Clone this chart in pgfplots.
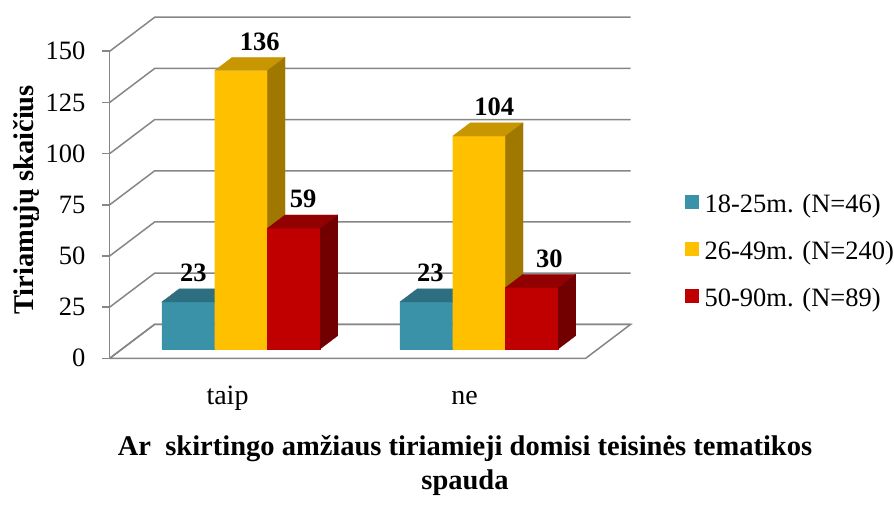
\documentclass[border=0pt]{standalone}
\usepackage{fontspec}
\setmainfont{Liberation Serif}
\usepackage{pgfplots}
\pgfplotsset{compat=1.18}
\definecolor{tealF}{HTML}{3A92A8}
\definecolor{tealT}{HTML}{2D6F80}
\definecolor{tealS}{HTML}{245A68}
\definecolor{yelF}{HTML}{FFC000}
\definecolor{yelT}{HTML}{C89600}
\definecolor{yelS}{HTML}{A07800}
\definecolor{redF}{HTML}{C00000}
\definecolor{redT}{HTML}{930000}
\definecolor{redS}{HTML}{720000}
\definecolor{gridc}{HTML}{868686}
% #1 left x, #2 right x, #3 value, #4 front, #5 top, #6 side colour
\newcommand{\cube}[6]{%
 \addplot3[forget plot, mark=none, draw=#4, line width=0.2pt, fill=#4] coordinates {(#1,0.2735,0) (#2,0.2735,0) (#2,0.2735,#3) (#1,0.2735,#3) (#1,0.2735,0)};
 \addplot3[forget plot, mark=none, draw=#5, line width=0.2pt, fill=#5] coordinates {(#1,0.2735,#3) (#2,0.2735,#3) (#2,0.665,#3) (#1,0.665,#3) (#1,0.2735,#3)};
 \addplot3[forget plot, mark=none, draw=#6, line width=0.2pt, fill=#6] coordinates {(#2,0.2735,0) (#2,0.665,0) (#2,0.665,#3) (#2,0.2735,#3) (#2,0.2735,0)};
}
\begin{document}
\begin{tikzpicture}
\path[use as bounding box] (0pt,0pt) rectangle (894pt,514pt);
\begin{axis}[
  at={(228.7pt,155.7pt)}, anchor=origin,
  x={(238pt,0pt)}, y={(45pt,34pt)}, z={(0pt,2.047pt)},
  xmin=-0.5, xmax=1.5, ymin=0, ymax=1, zmin=0, zmax=150,
  hide axis, clip=false,
  /pgf/number format/assume math mode=true,
  legend cell align=left,
  legend style={at={(582.3pt,107.3pt)}, anchor=west, draw=none, fill=none,
    inner sep=0pt, row sep=27pt, column sep=6pt,
    font=\fontsize{26.5}{30}\selectfont, nodes={inner sep=0pt}},
]
% floor
\addplot3[forget plot, mark=none, draw=gridc, fill=white, line width=1.5pt]
  coordinates {(-0.5,0,0) (1.5,0,0) (1.5,1,0) (-0.5,1,0) (-0.5,0,0)};
% gridlines on side and back walls
\pgfplotsinvokeforeach{0,25,50,75,100,125,150}{
  \addplot3[forget plot, mark=none, gridc, line width=1.5pt]
    coordinates {(-0.5,0,#1) (-0.5,1,#1) (1.5,1,#1)};
  \addplot3[forget plot, mark=none, gridc, line width=1.5pt]
    coordinates {(-0.532,0,#1) (-0.5,0,#1)};
  \node[anchor=east, inner sep=0pt, xshift=-24pt, font=\fontsize{26.5}{30}\selectfont]
    at (axis cs:-0.5,0,#1) {#1};
}
\addplot3[forget plot, mark=none, gridc, line width=1.5pt]
  coordinates {(-0.5,0,0) (-0.5,0,150)};
% bars: taip
\cube{-0.3326}{-0.1109}{23}{tealF}{tealT}{tealS}
\cube{-0.1109}{0.1109}{136}{yelF}{yelT}{yelS}
\cube{0.1109}{0.3326}{59}{redF}{redT}{redS}
% bars: ne
\cube{0.6674}{0.8891}{23}{tealF}{tealT}{tealS}
\cube{0.8891}{1.1109}{104}{yelF}{yelT}{yelS}
\cube{1.1109}{1.3326}{30}{redF}{redT}{redS}
% value labels
\addplot3[forget plot, draw=none, mark=none, point meta=z, nodes near coords,
  nodes near coords style={anchor=base, yshift=7pt, inner sep=0pt, text=black,
    font=\bfseries\fontsize{26.5}{30}\selectfont}]
  coordinates {(-0.274,0.665,23) (0.005,0.665,136) (0.187,0.665,59)
               (0.722,0.665,23) (0.990,0.665,104) (1.222,0.665,30)};
% legend
\addlegendimage{legend image code/.code={\path[draw=none,fill=none] (0pt,-9pt) rectangle (14pt,9pt); \path[draw=none,fill=tealF] (0pt,-5pt) rectangle (14pt,9pt);}}
\addlegendentry{18-25m. (N=46)}
\addlegendimage{legend image code/.code={\path[draw=none,fill=none] (0pt,-9pt) rectangle (14pt,9pt); \path[draw=none,fill=yelF] (0pt,-5pt) rectangle (14pt,9pt);}}
\addlegendentry{26-49m. (N=240)}
\addlegendimage{legend image code/.code={\path[draw=none,fill=none] (0pt,-9pt) rectangle (14pt,9pt); \path[draw=none,fill=redF] (0pt,-5pt) rectangle (14pt,9pt);}}
\addlegendentry{50-90m. (N=89)}
\end{axis}
\node[rotate=90, anchor=base, inner sep=0pt, font=\bfseries\fontsize{28.5}{34}\selectfont]
  at (33.5pt,314pt) {Tiriamųjų skaičius};
\node[anchor=base, inner sep=0pt, font=\fontsize{28}{32}\selectfont] at (227.5pt,109pt) {taip};
\node[anchor=base, inner sep=0pt, font=\fontsize{28}{32}\selectfont] at (464.5pt,109pt) {ne};
\node[anchor=base, inner sep=0pt, font=\bfseries\fontsize{28.5}{34}\selectfont]
  at (465pt,58pt) {Ar\ \ skirtingo amžiaus tiriamieji domisi teisinės tematikos};
\node[anchor=base, inner sep=0pt, font=\bfseries\fontsize{28.5}{34}\selectfont]
  at (465pt,24pt) {spauda};
\end{tikzpicture}
\end{document}
